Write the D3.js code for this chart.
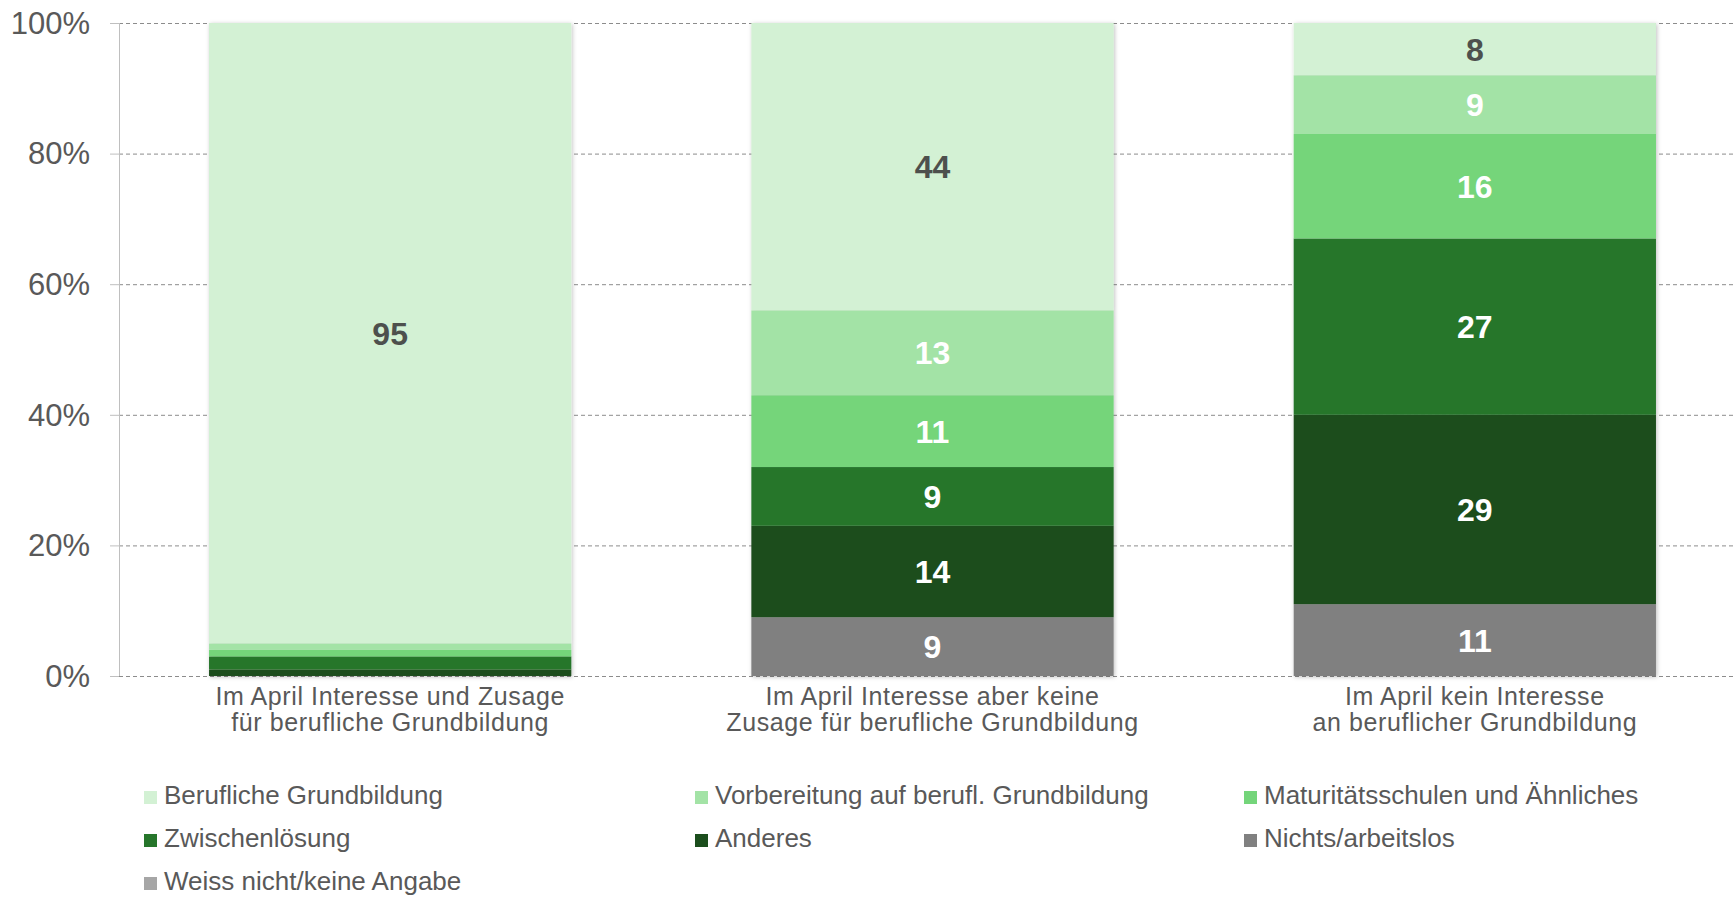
<!DOCTYPE html>
<html>
<head>
<meta charset="utf-8">
<script src="https://cdn.jsdelivr.net/npm/d3@7"></script>
<style>
	body { margin: 0; background: #fff; }
	text { font-family: Arial, "Liberation Sans", sans-serif; }
	.grid line { stroke: #8c8c8c; stroke-width: 1px; stroke-dasharray: 4,3; }
	.tick-label { fill: #595959; font-size: 31px; }
	.cat-label { fill: #595959; font-size: 25px; letter-spacing: 0.6px; }
	.legend text { fill: #595959; font-size: 26px; }
	.val { font-size: 32px; font-weight: bold; }
</style>
</head>
<body>
<script>

var width = 1734,
	height = 897;

var categories = [
	["Im April Interesse und Zusage", "für berufliche Grundbildung"],
	["Im April Interesse aber keine", "Zusage für berufliche Grundbildung"],
	["Im April kein Interesse", "an beruflicher Grundbildung"]
];

var seriesNames = [
	"Berufliche Grundbildung",
	"Vorbereitung auf berufl. Grundbildung",
	"Maturitätsschulen und Ähnliches",
	"Zwischenlösung",
	"Anderes",
	"Nichts/arbeitslos",
	"Weiss nicht/keine Angabe"
];

var colors = ["#d3f1d4", "#a3e3a6", "#74d57a", "#26762b", "#1b4e1d", "#808080", "#a6a6a6"];

// values per series, one entry per category
var beruflich = [95, 44, 8];
var vorbereitung = [1, 13, 9];
var maturitaet = [1, 11, 16];
var zwischen = [2, 9, 27];
var anderes = [1, 14, 29];
var nichts = [0, 9, 11];
var weissNicht = [0, 0, 0];

var yTicks = [0, 20, 40, 60, 80, 100];

var seriesValues = [beruflich, vorbereitung, maturitaet, zwischen, anderes, nichts, weissNicht];

var rows = categories.map(function(c, i) {
	var r = { cat: i };
	seriesNames.forEach(function(s, j) { r[s] = seriesValues[j][i]; });
	return r;
});

// bottom of the stack is the last legend entry
var stackKeys = seriesNames.slice().reverse();
var stacked = d3.stack().keys(stackKeys)(rows);

var x = d3.scaleBand()
	.domain(d3.range(categories.length))
	.range([119, 1746])
	.paddingInner(0.332)
	.paddingOuter(0.166);

var y = d3.scaleLinear().domain([0, 100]).range([676, 23]);

var color = d3.scaleOrdinal().domain(seriesNames).range(colors);

var svg = d3.select("body").append("svg")
	.attr("width", width)
	.attr("height", height);

var defs = svg.append("defs");
defs.append("filter").attr("id", "shadow")
	.attr("x", "-5%").attr("y", "-5%").attr("width", "110%").attr("height", "110%")
  .append("feDropShadow")
	.attr("dx", 1).attr("dy", 1).attr("stdDeviation", 2)
	.attr("flood-color", "#000").attr("flood-opacity", 0.25);

// gridlines
svg.append("g").attr("class", "grid")
	.selectAll("line")
	.data(yTicks)
  .enter().append("line")
	.attr("x1", 119).attr("x2", width)
	.attr("y1", function(d) { return y(d) + 0.5; })
	.attr("y2", function(d) { return y(d) + 0.5; });

// tick marks + axis line
svg.append("g").selectAll("line")
	.data(yTicks)
  .enter().append("line")
	.attr("x1", 110).attr("x2", 119)
	.attr("y1", function(d) { return y(d) + 0.5; })
	.attr("y2", function(d) { return y(d) + 0.5; })
	.attr("stroke", "#bfbfbf");

svg.append("line")
	.attr("x1", 119.5).attr("x2", 119.5)
	.attr("y1", y(100)).attr("y2", y(0))
	.attr("stroke", "#bfbfbf");

svg.append("g").selectAll("text")
	.data(yTicks)
  .enter().append("text")
	.attr("class", "tick-label")
	.attr("x", 90)
	.attr("y", function(d) { return y(d); })
	.attr("dy", "0.35em")
	.attr("text-anchor", "end")
	.text(function(d) { return d + "%"; });

// bars
var barG = svg.append("g").attr("filter", "url(#shadow)");
barG.selectAll("g")
	.data(stacked)
  .enter().append("g")
	.attr("fill", function(s) { return color(s.key); })
  .selectAll("rect")
	.data(function(s) { return s; })
  .enter().append("rect")
	.attr("x", function(d) { return x(d.data.cat); })
	.attr("width", x.bandwidth())
	.attr("y", function(d) { return y(d[1]); })
	.attr("height", function(d) { return y(d[0]) - y(d[1]); });

// value labels
var labelG = svg.append("g");
stacked.forEach(function(s) {
	s.forEach(function(d) {
		var v = d[1] - d[0];
		if (v < 5) return;
		labelG.append("text")
			.attr("class", "val")
			.attr("x", x(d.data.cat) + x.bandwidth() / 2)
			.attr("y", y((d[0] + d[1]) / 2))
			.attr("dy", "0.36em")
			.attr("text-anchor", "middle")
			.attr("fill", s.key === seriesNames[0] ? "#4d504d" : "#ffffff")
			.text(v);
	});
});

// category labels
var catG = svg.append("g");
categories.forEach(function(lines, i) {
	var t = catG.append("text")
		.attr("class", "cat-label")
		.attr("text-anchor", "middle");
	lines.forEach(function(l, k) {
		t.append("tspan")
			.attr("x", x(i) + x.bandwidth() / 2)
			.attr("y", 705 + k * 26)
			.text(l);
	});
});

// legend
var legend = svg.append("g").attr("class", "legend");
var legX = [144, 695, 1244];
var legItems = legend.selectAll("g")
	.data(seriesNames)
  .enter().append("g")
	.attr("transform", function(d, i) {
		return "translate(" + legX[i % 3] + "," + (804 + Math.floor(i / 3) * 43) + ")";
	});
legItems.append("rect")
	.attr("x", 0).attr("y", -13)
	.attr("width", 13).attr("height", 13)
	.attr("fill", function(d) { return color(d); });
legItems.append("text")
	.attr("x", 20)
	.attr("y", 0)
	.text(function(d) { return d; });

</script>
</body>
</html>
